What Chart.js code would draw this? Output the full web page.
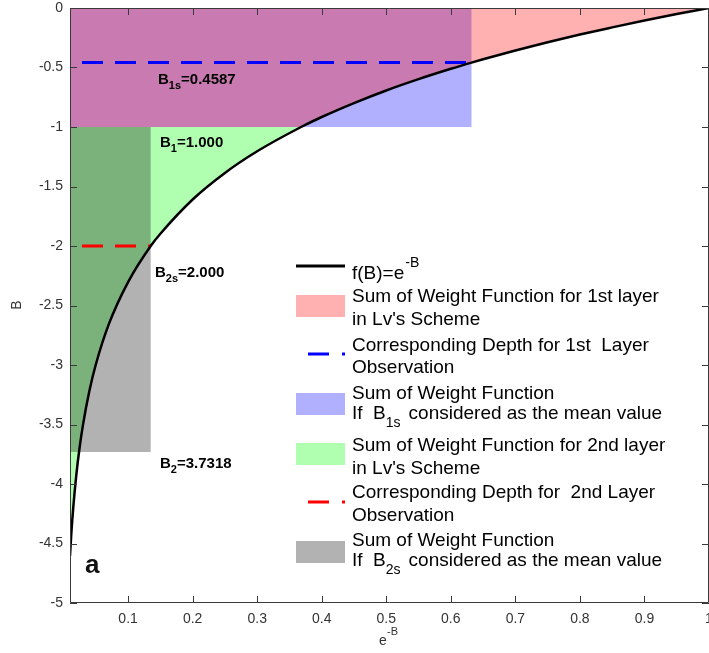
<!DOCTYPE html>
<html>
<head>
<meta charset="utf-8">
<script src="https://cdn.jsdelivr.net/npm/chart.js@4.4.1/dist/chart.umd.min.js"></script>
<style>
  html, body { margin: 0; padding: 0; background: #fff; }
  #wrap { width: 709px; height: 653px; position: relative; }
</style>
</head>
<body>
<div id="wrap"><canvas id="myChart" width="709" height="653"></canvas></div>
<script>
// curve f(B)=e^-B (x = e^-B, y = -B)
const curveX = [0.01, 0.012, 0.015, 0.02, 0.025, 0.03, 0.04, 0.05, 0.07, 0.1, 0.135, 0.15, 0.2, 0.25, 0.3, 0.368, 0.4, 0.45, 0.5, 0.55, 0.6, 0.632, 0.65, 0.7, 0.75, 0.8, 0.85, 0.9, 0.95, 1.0];
const curveY = [-4.605, -4.42, -4.2, -3.912, -3.689, -3.507, -3.219, -2.996, -2.659, -2.303, -2.0, -1.897, -1.609, -1.386, -1.204, -1.0, -0.916, -0.799, -0.693, -0.598, -0.511, -0.459, -0.431, -0.357, -0.288, -0.223, -0.163, -0.105, -0.051, 0];

// depths marked on the chart
const depthNames = ['B1s', 'B1', 'B2s', 'B2'];
const depthValues = [0.4587, 1.0, 2.0, 3.7318];
const depthEdgeX = [0.632, 0.368, 0.135, 0.024]; // e^-B where each depth meets the curve

const xMin = 0.01, xMax = 1;
const xTicks = [0.1, 0.2, 0.3, 0.4, 0.5, 0.6, 0.7, 0.8, 0.9, 1];
const yTicks = [0, -0.5, -1, -1.5, -2, -2.5, -3, -3.5, -4, -4.5, -5];

const B1s = depthValues[0], B1 = depthValues[1], B2s = depthValues[2], B2 = depthValues[3];
const curve = curveX.map((x, i) => ({ x: x, y: curveY[i] }));

// pink: between y=0 and y=-B1, left of the curve
const pinkShape = [{ x: xMin, y: 0 }, { x: xMax, y: 0 }]
  .concat(curve.filter(p => p.y >= -B1).reverse())
  .concat([{ x: xMin, y: -B1 }]);
// blue: rectangle up to the B1s crossing
const blueShape = [{ x: xMin, y: 0 }, { x: depthEdgeX[0], y: 0 }, { x: depthEdgeX[0], y: -B1 }, { x: xMin, y: -B1 }];
// green: below -B1, left of the curve
const greenShape = [{ x: xMin, y: -B1 }]
  .concat(curve.filter(p => p.y <= -B1).reverse())
  .concat([{ x: xMin, y: curveY[0] }]);
// grey: rectangle up to the B2s crossing, down to B2
const greyShape = [{ x: xMin, y: -B1 }, { x: depthEdgeX[2], y: -B1 }, { x: depthEdgeX[2], y: -B2 }, { x: xMin, y: -B2 }];

const blueDash = [{ x: xMin, y: -B1s }, { x: depthEdgeX[0], y: -B1s }];
const redDash = [{ x: xMin, y: -B2s }, { x: depthEdgeX[2], y: -B2s }];

const pink = 'rgba(255,0,0,0.31)';
const blue = 'rgba(0,0,255,0.31)';
const green = 'rgba(0,255,0,0.31)';
const grey = 'rgba(0,0,0,0.3)';

function shapeSet(data, color, order) {
  return { data: data, fill: 'shape', backgroundColor: color, borderColor: 'rgba(0,0,0,0)', borderWidth: 0,
    pointRadius: 0, tension: 0, order: order };
}

const frame = {
  id: 'frame',
  afterDatasetsDraw(chart) {
    const c = chart.ctx, a = chart.chartArea;
    const xs = chart.scales.x, ys = chart.scales.y;
    c.save();
    c.strokeStyle = '#3a3a3a';
    c.lineWidth = 1;
    c.beginPath();
    c.rect(a.left + 0.5, a.top + 0.5, a.right - a.left - 1, a.bottom - a.top - 1);
    xTicks.forEach(v => {
      const px = Math.round(xs.getPixelForValue(v)) + 0.5;
      c.moveTo(px, a.bottom); c.lineTo(px, a.bottom - 7);
      c.moveTo(px, a.top); c.lineTo(px, a.top + 7);
    });
    yTicks.forEach(v => {
      const py = Math.round(ys.getPixelForValue(v)) + 0.5;
      c.moveTo(a.left, py); c.lineTo(a.left + 7, py);
      c.moveTo(a.right, py); c.lineTo(a.right - 7, py);
    });
    c.stroke();

    // axis titles
    c.fillStyle = '#333';
    c.font = '14px "Liberation Sans", Arial, sans-serif';
    c.textBaseline = 'middle';
    c.textAlign = 'left';
    c.fillText('e', 379, 641);
    c.font = '11px "Liberation Sans", Arial, sans-serif';
    c.fillText('-B', 387, 632);
    c.save();
    c.translate(17, 305);
    c.rotate(-Math.PI / 2);
    c.textAlign = 'center';
    c.font = '14px "Liberation Sans", Arial, sans-serif';
    c.fillText('B', 0, 0);
    c.restore();

    // depth labels
    c.fillStyle = '#000';
    const lab = (main, sub, rest, x, y) => {
      c.font = 'bold 15px "Liberation Sans", Arial, sans-serif';
      c.fillText(main, x, y);
      let w = c.measureText(main).width;
      c.font = 'bold 11px "Liberation Sans", Arial, sans-serif';
      c.fillText(sub, x + w, y + 6);
      w += c.measureText(sub).width;
      c.font = 'bold 15px "Liberation Sans", Arial, sans-serif';
      c.fillText(rest, x + w, y);
    };
    lab('B', '1s', '=' + B1s.toFixed(4), 158, 80);
    lab('B', '1', '=' + B1.toFixed(3), 160, 143);
    lab('B', '2s', '=' + B2s.toFixed(3), 155, 273);
    lab('B', '2', '=' + B2.toFixed(4), 160, 464);

    c.font = 'bold 26px "Liberation Sans", Arial, sans-serif';
    c.fillStyle = '#111';
    c.fillText('a', 85, 566);

    // legend
    const lx0 = 296, lx1 = 345, tx = 352;
    const f = '19px "Liberation Sans", Arial, sans-serif';
    const fs = '14px "Liberation Sans", Arial, sans-serif';
    c.fillStyle = '#000';
    c.strokeStyle = '#000';
    c.lineWidth = 3;
    c.beginPath(); c.moveTo(lx0, 266); c.lineTo(lx1, 266); c.stroke();
    c.font = f; c.fillText('f(B)=e', tx, 274);
    let w = c.measureText('f(B)=e').width;
    c.font = fs; c.fillText('-B', tx + w + 1, 263);

    const box = (col, y0, y1) => { c.fillStyle = col; c.fillRect(lx0, y0, lx1 - lx0, y1 - y0); c.fillStyle = '#000'; };
    const dash = (col, y) => {
      c.strokeStyle = col; c.lineWidth = 3; c.setLineDash([21, 13]);
      c.beginPath(); c.moveTo(308, y); c.lineTo(lx1, y); c.stroke(); c.setLineDash([]);
    };
    const sublines = (l1, pre, sub, post, y1, y2) => {
      c.font = f; c.fillText(l1, tx, y1);
      c.fillText(pre, tx, y2);
      let w2 = c.measureText(pre).width;
      c.font = fs; c.fillText(sub, tx + w2, y2 + 9);
      w2 += c.measureText(sub).width + 8;
      c.font = f; c.fillText(post, tx + w2, y2);
    };

    box(pink, 295, 317);
    c.font = f;
    c.fillText('Sum of Weight Function for 1st layer', tx, 297);
    c.fillText("in Lv's Scheme", tx, 320);

    dash('#0000ff', 354);
    c.font = f;
    c.fillText('Corresponding Depth for 1st  Layer', tx, 346);
    c.fillText('Observation', tx, 368);

    box(blue, 393, 415);
    sublines('Sum of Weight Function', 'If  B', '1s', 'considered as the mean value', 394, 414);

    box(green, 443, 465);
    c.font = f;
    c.fillText('Sum of Weight Function for 2nd layer', tx, 446);
    c.fillText("in Lv's Scheme", tx, 469);

    dash('#ff0000', 502);
    c.font = f;
    c.fillText('Corresponding Depth for  2nd Layer', tx, 493);
    c.fillText('Observation', tx, 516);

    box(grey, 541, 563);
    sublines('Sum of Weight Function', 'If  B', '2s', 'considered as the mean value', 541, 561);
    c.restore();
  }
};

const ctx = document.getElementById('myChart').getContext('2d');
const myChart = new Chart(ctx, {
  type: 'line',
  data: {
    datasets: [
      { label: 'f(B)=e^-B', data: curve, borderColor: '#000', borderWidth: 2.5, pointRadius: 0,
        fill: false, cubicInterpolationMode: 'monotone', order: 0 },
      { label: 'B1s', data: blueDash, borderColor: '#0000ff', borderWidth: 3, borderDash: [21, 12],
        borderDashOffset: -12, pointRadius: 0, fill: false, order: 1 },
      { label: 'B2s', data: redDash, borderColor: '#ff0000', borderWidth: 3, borderDash: [21, 12],
        borderDashOffset: -12, pointRadius: 0, fill: false, order: 1 },
      shapeSet(pinkShape, pink, 2),
      shapeSet(blueShape, blue, 3),
      shapeSet(greyShape, grey, 4),
      shapeSet(greenShape, green, 5)
    ]
  },
  options: {
    responsive: false,
    animation: false,
    layout: { autoPadding: false, padding: { top: 8, right: 0, left: 0, bottom: 0 } },
    plugins: { legend: { display: false }, tooltip: { enabled: false } },
    scales: {
      x: {
        type: 'linear', min: xMin, max: xMax,
        afterBuildTicks: s => { s.ticks = xTicks.map(v => ({ value: v })); },
        afterFit: s => { s.height = 50; s.paddingLeft = 0; s.paddingRight = 0; },
        grid: { display: false, drawTicks: false },
        border: { display: false },
        ticks: { color: '#333', padding: 8, maxRotation: 0, autoSkip: false,
          font: { family: '"Liberation Sans", Arial, sans-serif', size: 14 },
          callback: v => String(v) }
      },
      y: {
        type: 'linear', min: -5, max: 0,
        afterBuildTicks: s => { s.ticks = yTicks.map(v => ({ value: v })); },
        afterFit: s => { s.width = 70; s.paddingTop = 0; s.paddingBottom = 0; },
        grid: { display: false, drawTicks: false },
        border: { display: false },
        ticks: { color: '#333', padding: 7, autoSkip: false,
          font: { family: '"Liberation Sans", Arial, sans-serif', size: 14 },
          callback: v => String(v) }
      }
    }
  },
  plugins: [frame]
});
</script>
</body>
</html>
